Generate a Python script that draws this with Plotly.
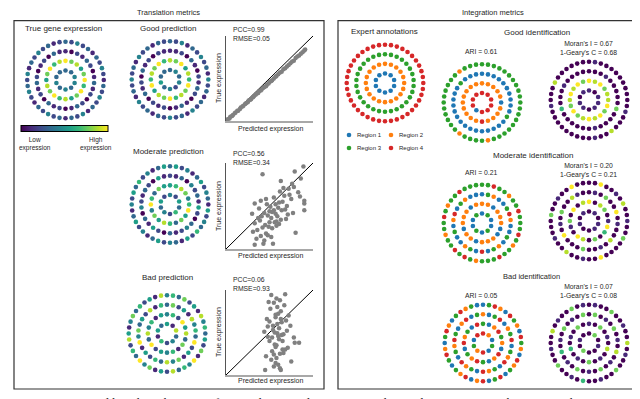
import numpy as np
import plotly.graph_objects as go

W, H = 640, 399
SANS = "Liberation Sans"
SERIF = "Liberation Serif"

# ring radii of the spot layout (inner -> outer)
RING_RADII = [1, 2, 3, 4]

# spot values per ring, inner -> outer. viridis levels 0-9
true_expr = ["3344343433",
             "9785796975" "8697857968",
             "1021320131" "2023102130" "2132012031",
             "3242313242" "1324231423" "1324231243" "2413242312"]
good_pred = ["3434243533",
             "8795869786" "9785968796",
             "1120310213" "2013102120" "3120312021",
             "3241324231" "4231324132" "4231324132" "4231423132"]
moderate_pred = ["4253624352",
                 "5687469573" "6857496375",
                 "2130423152" "0342130251" "3042132051",
                 "3524135243" "1524362513" "4253142531" "4253624135"]
bad_pred = ["5183426153",
            "4629583716" "4529384615",
            "3725184639" "2517483625" "1947352816",
            "4637251846" "3527194638" "2517493628" "5147362518"]

# region labels 1-4
expert_regions = ["1111111111",
                  "2222222222" "2222222222",
                  "3333333333" "3333333333" "3333333333",
                  "4444444444" "4444444444" "4444444444" "4444444444"]
good_ari = ["4444441444",
            "2222212222" "4222222222",
            "1111111111" "3111111111" "1111113111",
            "3333333333" "3333333332" "3333233333" "3333332333"]
moderate_ari = ["1311313113",
                "2212221122" "2122122212",
                "1321134211" "3123141321" "1312413211",
                "3343323343" "3343233433" "3234343323" "3432334333"]
bad_ari = ["4213142314",
           "3124321421" "3423142314",
           "2134123413" "2413241324" "1324312413",
           "1342143214" "3214231431" "4214231342" "1342134231"]

# spatial autocorrelation panels, viridis levels 0-9
good_moran = ["1011101101",
              "9897889798" "9879789897",
              "0001000007" "0000100000" "0600010000",
              "0100000000" "0010008001" "0000000001" "0008000000"]
moderate_moran = ["0101100101",
                  "9087019607" "0890170908",
                  "0107009010" "0801007000" "9010700810",
                  "0090010800" "1007000090" "0100800100" "0700100900"]
bad_moran = ["0701007010",
             "1070108010" "7010601070",
             "0701070108" "0107010701" "0601070107",
             "0100700100" "8010070010" "0601007001" "0080100701"]

REGION_COLORS = ["#1f77b4", "#ff7f0e", "#2ca02c", "#d62728"]
REGION_NAMES = ["Region 1", "Region 2", "Region 3", "Region 4"]

# predicted vs true expression
good_x = [0.02, 0.04, 0.05, 0.07, 0.08, 0.10, 0.11, 0.13, 0.14, 0.16, 0.17, 0.19, 0.20, 0.22, 0.23,
          0.25, 0.26, 0.28, 0.29, 0.31, 0.32, 0.34, 0.35, 0.37, 0.38, 0.40, 0.41, 0.43, 0.44, 0.46,
          0.47, 0.49, 0.50, 0.52, 0.53, 0.55, 0.57, 0.58, 0.60, 0.62, 0.64, 0.66, 0.68, 0.70, 0.72,
          0.74, 0.76, 0.78, 0.80, 0.82, 0.84, 0.86, 0.88, 0.90, 0.91]
good_y = [0.02, 0.03, 0.05, 0.06, 0.07, 0.09, 0.10, 0.12, 0.12, 0.14, 0.16, 0.17, 0.18, 0.20, 0.21,
          0.22, 0.24, 0.25, 0.26, 0.28, 0.29, 0.31, 0.32, 0.33, 0.35, 0.36, 0.37, 0.39, 0.40, 0.41,
          0.43, 0.44, 0.46, 0.47, 0.48, 0.50, 0.52, 0.53, 0.55, 0.57, 0.58, 0.61, 0.62, 0.64, 0.66,
          0.68, 0.70, 0.71, 0.74, 0.76, 0.77, 0.79, 0.81, 0.83, 0.84]
moderate_x = [0.42, 0.79, 0.89, 0.63, 0.76, 0.40, 0.90, 0.33, 0.90, 0.90, 0.80, 0.33, 0.43, 0.54, 0.48, 0.69, 0.58, 0.33,
              0.30, 0.36, 0.38, 0.41, 0.45, 0.47, 0.50, 0.52, 0.55, 0.57, 0.60, 0.62, 0.65, 0.67, 0.72, 0.75, 0.83, 0.86,
              0.35, 0.39, 0.44, 0.46, 0.49, 0.51, 0.53, 0.56, 0.59, 0.61, 0.64, 0.70, 0.73, 0.78, 0.85,
              0.37, 0.42, 0.48, 0.52, 0.55, 0.58, 0.66, 0.71, 0.31, 0.44, 0.50, 0.57, 0.63, 0.68, 0.77, 0.40, 0.46, 0.53, 0.61]
moderate_y = [0.87, 0.90, 0.96, 0.79, 0.76, 0.56, 0.56, 0.53, 0.53, 0.45, 0.19, 0.05, 0.06, 0.06, 0.16, 0.35, 0.32, 0.30,
              0.41, 0.22, 0.47, 0.38, 0.28, 0.52, 0.44, 0.36, 0.60, 0.41, 0.48, 0.67, 0.55, 0.62, 0.70, 0.58, 0.66, 0.82,
              0.12, 0.33, 0.42, 0.18, 0.26, 0.49, 0.24, 0.31, 0.38, 0.54, 0.45, 0.50, 0.63, 0.72, 0.61,
              0.36, 0.25, 0.39, 0.14, 0.45, 0.27, 0.71, 0.40, 0.20, 0.10, 0.31, 0.52, 0.34, 0.46, 0.42, 0.15, 0.58, 0.43, 0.29]
bad_x = [0.45, 0.63, 0.79, 0.84, 0.52, 0.68, 0.75, 0.55, 0.60, 0.58, 0.62, 0.65, 0.57, 0.53, 0.50, 0.48, 0.66, 0.70, 0.61, 0.56,
         0.59, 0.64, 0.54, 0.47, 0.72, 0.60, 0.57, 0.63, 0.51, 0.67, 0.55, 0.62, 0.58, 0.49, 0.69, 0.53, 0.61, 0.56, 0.64, 0.59,
         0.46, 0.52, 0.57, 0.66, 0.71, 0.74, 0.50, 0.54, 0.60, 0.65, 0.58, 0.62, 0.55, 0.48, 0.68, 0.44, 0.78, 0.59, 0.63, 0.57]
bad_y = [0.06, 0.06, 0.38, 0.38, 0.94, 0.95, 0.16, 0.10, 0.12, 0.20, 0.25, 0.30, 0.33, 0.28, 0.40, 0.45, 0.48, 0.52, 0.55, 0.50,
         0.60, 0.62, 0.58, 0.66, 0.70, 0.72, 0.68, 0.75, 0.78, 0.82, 0.85, 0.88, 0.90, 0.86, 0.64, 0.44, 0.42, 0.36, 0.47, 0.49,
         0.22, 0.18, 0.14, 0.26, 0.32, 0.58, 0.63, 0.53, 0.46, 0.40, 0.35, 0.08, 0.24, 0.57, 0.30, 0.51, 0.44, 0.80, 0.66, 0.71]
IDENTITY = [0, 1]

fig = go.Figure()
n_axes = [0]


def new_axes(x0, x1, y0, y1, xr, yr):
    # domains given in page pixels
    n_axes[0] += 1
    s = "" if n_axes[0] == 1 else str(n_axes[0])
    fig.update_layout({
        "xaxis" + s: dict(domain=[x0 / W, x1 / W], range=xr, visible=False, anchor="y" + s, fixedrange=True),
        "yaxis" + s: dict(domain=[1 - y1 / H, 1 - y0 / H], range=yr, visible=False, anchor="x" + s, fixedrange=True),
    })
    return "x" + s, "y" + s


def ring_panel(rings, cx, cy, kind, colorbar=None):
    xa, ya = new_axes(cx - 45, cx + 45, cy - 45, cy + 45, [-4.7, 4.7], [-4.7, 4.7])
    xs, ys, vals = [], [], []
    for r, s in zip(RING_RADII, rings):
        n = len(s)
        t = np.pi / 2 - 2 * np.pi * np.arange(n) / n
        xs += list(r * np.cos(t))
        ys += list(r * np.sin(t))
        vals += [int(c) for c in s]
    if kind == "viridis":
        marker = dict(color=[v / 9 for v in vals], colorscale="Viridis", cmin=0, cmax=1, size=4.6)
        if colorbar:
            marker.update(showscale=True, colorbar=colorbar)
    else:
        marker = dict(color=[REGION_COLORS[v - 1] for v in vals], size=4.6)
    fig.add_trace(go.Scatter(x=xs, y=ys, mode="markers", marker=marker, xaxis=xa, yaxis=ya,
                             showlegend=False, hoverinfo="skip", cliponaxis=False))


def scatter_panel(px_, py_, x0, x1, y0, y1):
    xa, ya = new_axes(x0, x1, y0, y1, [0, 1], [0, 1])
    fig.update_layout({
        "xaxis" + xa[1:]: dict(visible=True, showticklabels=False, showgrid=False, zeroline=False, ticks="",
                               showline=True, linecolor="#a8a8a8", linewidth=2),
        "yaxis" + ya[1:]: dict(visible=True, showticklabels=False, showgrid=False, zeroline=False, ticks="",
                               showline=True, linecolor="#555555", linewidth=1),
    })
    fig.add_trace(go.Scatter(x=IDENTITY, y=IDENTITY, mode="lines", line=dict(color="black", width=1),
                             xaxis=xa, yaxis=ya, showlegend=False, hoverinfo="skip"))
    fig.add_trace(go.Scatter(x=px_, y=py_, mode="markers", marker=dict(color="#808080", size=4.5),
                             xaxis=xa, yaxis=ya, showlegend=False, hoverinfo="skip", cliponaxis=False))


def label(text, x, y, size, xanchor="center", angle=0, family=SANS, yanchor="middle", align="center"):
    fig.add_annotation(text=text, x=x / W, y=1 - y / H, xref="paper", yref="paper", showarrow=False,
                       xanchor=xanchor, yanchor=yanchor, textangle=angle, align=align,
                       font=dict(size=size, family=family, color="#262626"))


# ---- translation metrics (left box)
cbar = dict(orientation="h", x=56.5 / W, xanchor="center", y=1 - 121 / H, yanchor="middle",
            len=87, lenmode="pixels", thickness=6, thicknessmode="pixels", showticklabels=False,
            ticks="", outlinewidth=1, outlinecolor="black", xpad=0, ypad=0)
ring_panel(true_expr, 57.5, 72, "viridis", colorbar=cbar)
ring_panel(good_pred, 162, 71.5, "viridis")
ring_panel(moderate_pred, 162, 196.5, "viridis")
ring_panel(bad_pred, 159, 325.5, "viridis")

scatter_panel(good_x, good_y, 218, 305, 28, 113)
scatter_panel(moderate_x, moderate_y, 218, 305, 155, 241)
scatter_panel(bad_x, bad_y, 218, 305, 282, 367)

# ---- integration metrics (right box)
ring_panel(expert_regions, 377, 75, "region")
ring_panel(good_ari, 474, 94.5, "region")
ring_panel(good_moran, 581, 92, "viridis")
ring_panel(moderate_ari, 474, 215, "region")
ring_panel(moderate_moran, 581, 213, "viridis")
ring_panel(bad_ari, 475, 335, "region")
ring_panel(bad_moran, 581, 335, "viridis")

# legend for the regions, placed in page pixels
lx, ly = new_axes(0, W, 0, H, [0, W], [H, 0])
legend_pos = [(341, 127), (383, 127), (341, 140), (383, 140)]
fig.add_trace(go.Scatter(x=[p[0] for p in legend_pos], y=[p[1] for p in legend_pos], mode="markers",
                         marker=dict(color=REGION_COLORS, size=4.6), xaxis=lx, yaxis=ly,
                         showlegend=False, hoverinfo="skip"))
for (x, y), name in zip(legend_pos, REGION_NAMES):
    label(name, x + 6, y, 6, xanchor="left")

# boxes
for x0, x1 in [(6, 316), (330, 636)]:
    fig.add_shape(type="rect", xref="paper", yref="paper", x0=x0 / W, x1=x1 / W,
                  y0=1 - 381 / H, y1=1 - 12.7 / H, line=dict(color="#333333", width=1.2))

label("Translation metrics", 160, 4.5, 7.5)
label("Integration metrics", 485, 4.5, 7.5)

label("True gene expression", 55, 20, 8)
label("Good prediction", 160, 20, 8)
label("Moderate prediction", 160, 143, 8)
label("Bad prediction", 159, 269, 8)
label("Low<br>expression", 27, 135.5, 6.5)
label("High<br>expression", 88, 135.5, 6.5)

for pcc, rmse, ym, yc in [("0.99", "0.05", 26, 70), ("0.56", "0.34", 150, 198),
                          ("0.06", "0.93", 275.5, 324)]:
    label("PCC=" + pcc + "<br>RMSE=" + rmse, 223, ym, 6.8, xanchor="left", align="left")
    label("True expression", 211, yc, 7, angle=-90)
for y in [121, 248, 373]:
    label("Predicted expression", 262, y, 7)

label("Expert annotations", 376, 23, 8)
label("Good identification", 529, 24, 8)
label("Moderate identification", 525, 147, 8)
label("Bad identification", 523, 268, 7.5)
for ari, y in [("0.61", 43), ("0.21", 165), ("0.05", 287)]:
    label("ARI = " + ari, 473, y, 6.8)
for mi, gc, y in [("0.67", "0.68", 40.5), ("0.20", "0.21", 162.5), ("0.07", "0.08", 283.5)]:
    label("Moran's I = " + mi + "<br>1-Geary's C = " + gc, 580, y, 6.8)

label("Figure 1: Proposed benchmark metrics for translation and integration. This evaluation aims to characterise the",
      0, 385, 13, xanchor="left", family=SERIF, yanchor="top")

fig.update_layout(width=W, height=H, margin=dict(l=0, r=0, t=0, b=0),
                  paper_bgcolor="white", plot_bgcolor="rgba(0,0,0,0)", showlegend=False)

fig.write_html("out.html")
